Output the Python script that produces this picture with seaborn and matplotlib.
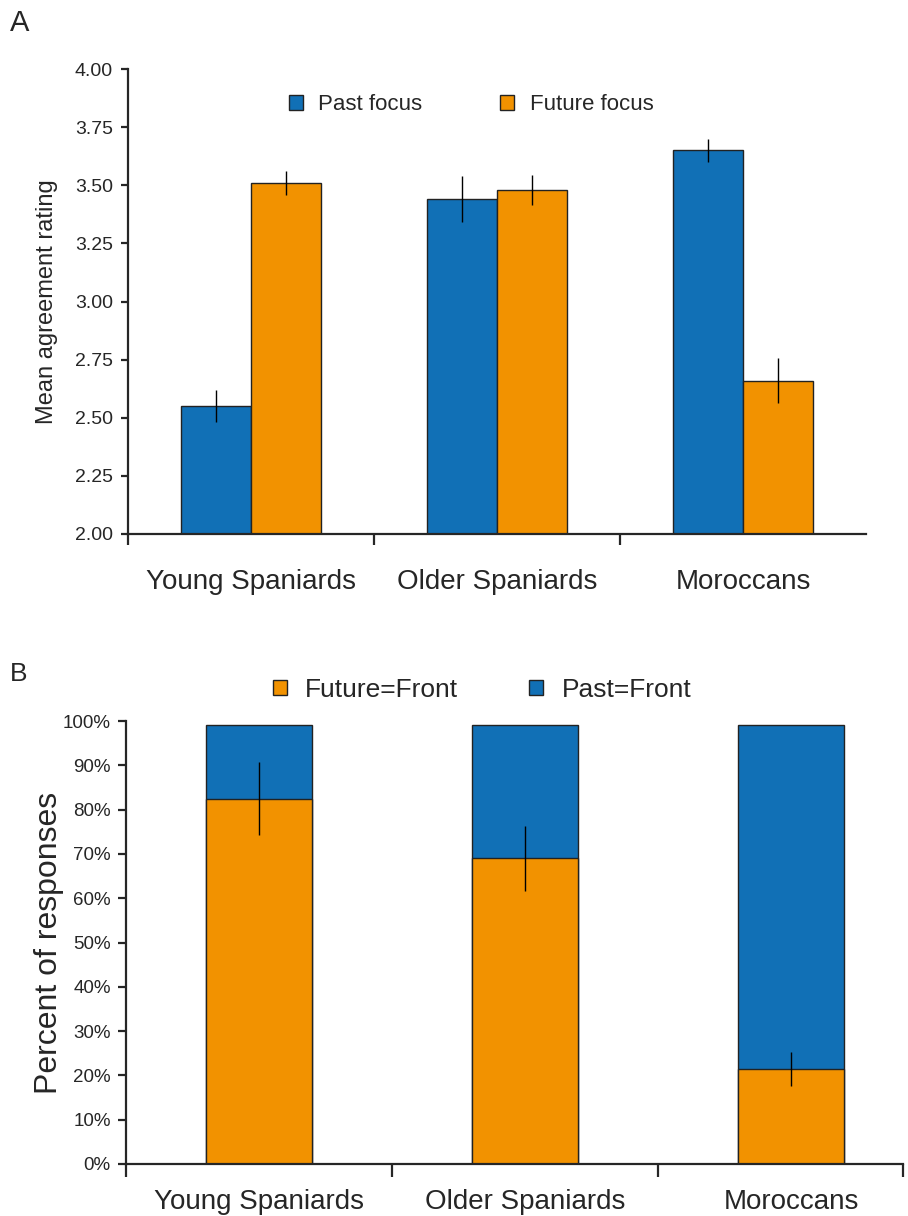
import numpy as np
import pandas as pd
import matplotlib
matplotlib.use('Agg')
import matplotlib.pyplot as plt
from matplotlib.patches import Patch
from matplotlib.ticker import PercentFormatter, FixedLocator
import seaborn as sns

# --- data ---
groups = ['Young Spaniards', 'Older Spaniards', 'Moroccans']

# panel A: mean agreement rating
past_focus = [2.55, 3.44, 3.65]
past_focus_err = [0.07, 0.10, 0.05]
future_focus = [3.51, 3.48, 2.66]
future_focus_err = [0.05, 0.065, 0.095]

# panel B: percent of responses
future_front = [82.5, 69.0, 21.5]
past_front = [16.5, 30.0, 77.5]
front_err = [8.2, 7.3, 3.8]

blue = '#1170b6'
orange = '#f29200'
edge = '#222222'

sns.set_style('ticks')
plt.rcParams['font.family'] = ['Liberation Sans', 'DejaVu Sans']
plt.rcParams['axes.linewidth'] = 1.6

W, H = 908, 1216
fig = plt.figure(figsize=(W / 100, H / 100), dpi=100)

axA = fig.add_axes([128 / W, 1 - 534 / H, 738 / W, 465 / H])
axB = fig.add_axes([126 / W, 1 - 1164 / H, 777 / W, 443 / H])

# --- panel A ---
dfA = pd.DataFrame({
    'group': groups * 2,
    'focus': ['Past focus'] * 3 + ['Future focus'] * 3,
    'rating': past_focus + future_focus,
    'err': past_focus_err + future_focus_err,
})
sns.barplot(data=dfA, x='group', y='rating', hue='focus', order=groups,
            hue_order=['Past focus', 'Future focus'],
            palette={'Past focus': blue, 'Future focus': orange},
            errorbar=None, width=0.57, gap=0, edgecolor=edge, linewidth=1.0,
            saturation=1, legend=False, ax=axA)

for cont, errs in zip(axA.containers, [past_focus_err, future_focus_err]):
    for bar, e in zip(cont.patches, errs):
        xc = bar.get_x() + bar.get_width() / 2
        axA.errorbar(xc, bar.get_height(), yerr=e, color='black',
                     elinewidth=1.0, capsize=0, zorder=5)

axA.set_ylim(2.0, 4.0)
axA.set_yticks(np.arange(2.0, 4.01, 0.25))
axA.set_yticklabels([f'{v:.2f}' for v in np.arange(2.0, 4.01, 0.25)])
axA.set_xlim(-0.5, 2.5)
axA.set_xticks(range(3))
axA.set_xticklabels(groups, fontsize=20)
axA.xaxis.set_minor_locator(FixedLocator([-0.5, 0.5, 1.5]))
axA.tick_params(axis='x', which='major', length=0, pad=25)
axA.tick_params(axis='x', which='minor', length=8, width=1.6)
axA.tick_params(axis='y', labelsize=14, length=5, width=1.6, pad=6)
axA.set_xlabel('')
axA.set_ylabel('Mean agreement rating', fontsize=17, labelpad=12)
sns.despine(ax=axA)

axA.legend(handles=[Patch(facecolor=blue, edgecolor=edge, label='Past focus'),
                    Patch(facecolor=orange, edgecolor=edge, label='Future focus')],
           loc='center', bbox_to_anchor=(0.519, 1 - 105 / H),
           bbox_transform=fig.transFigure, ncol=2, frameon=False,
           fontsize=16, handlelength=0.62, handleheight=0.62,
           handletextpad=0.7, columnspacing=3.5)

# --- panel B ---
dfB = pd.DataFrame({
    'group': groups,
    'future': future_front,
    'past': past_front,
    'err': front_err,
})
dfB['total'] = dfB['future'] + dfB['past']

sns.barplot(data=dfB, x='group', y='total', order=groups, color=blue,
            errorbar=None, width=0.4, edgecolor=edge, linewidth=1.0,
            saturation=1, ax=axB)
sns.barplot(data=dfB, x='group', y='future', order=groups, color=orange,
            errorbar=None, width=0.4, edgecolor=edge, linewidth=1.0,
            saturation=1, ax=axB)
axB.errorbar(range(3), dfB['future'], yerr=dfB['err'], fmt='none',
             ecolor='black', elinewidth=1.0, capsize=0, zorder=5)

axB.set_ylim(0, 100)
axB.set_yticks(range(0, 101, 10))
axB.yaxis.set_major_formatter(PercentFormatter(decimals=0))
axB.set_xlim(-0.5, 2.42)
axB.set_xticks(range(3))
axB.set_xticklabels(groups, fontsize=20)
axB.xaxis.set_minor_locator(FixedLocator([-0.5, 0.5, 1.5, 2.42]))
axB.tick_params(axis='x', which='major', length=0, pad=18)
axB.tick_params(axis='x', which='minor', length=9, width=1.6)
axB.tick_params(axis='y', labelsize=13.5, length=6, width=1.6, pad=5)
axB.set_xlabel('')
axB.set_ylabel('Percent of responses', fontsize=23, labelpad=-1)
sns.despine(ax=axB)

axB.legend(handles=[Patch(facecolor=orange, edgecolor=edge, label='Future=Front'),
                    Patch(facecolor=blue, edgecolor=edge, label='Past=Front')],
           loc='center', bbox_to_anchor=(0.531, 1 - 690 / H),
           bbox_transform=fig.transFigure, ncol=2, frameon=False,
           fontsize=19, handlelength=0.52, handleheight=0.52,
           handletextpad=0.7, columnspacing=2.7)

# panel letters
fig.text(10 / W, 1 - 31 / H, 'A', fontsize=21, va='baseline', ha='left')
fig.text(10 / W, 1 - 681 / H, 'B', fontsize=19, va='baseline', ha='left')

fig.savefig('out.png', dpi=100)
